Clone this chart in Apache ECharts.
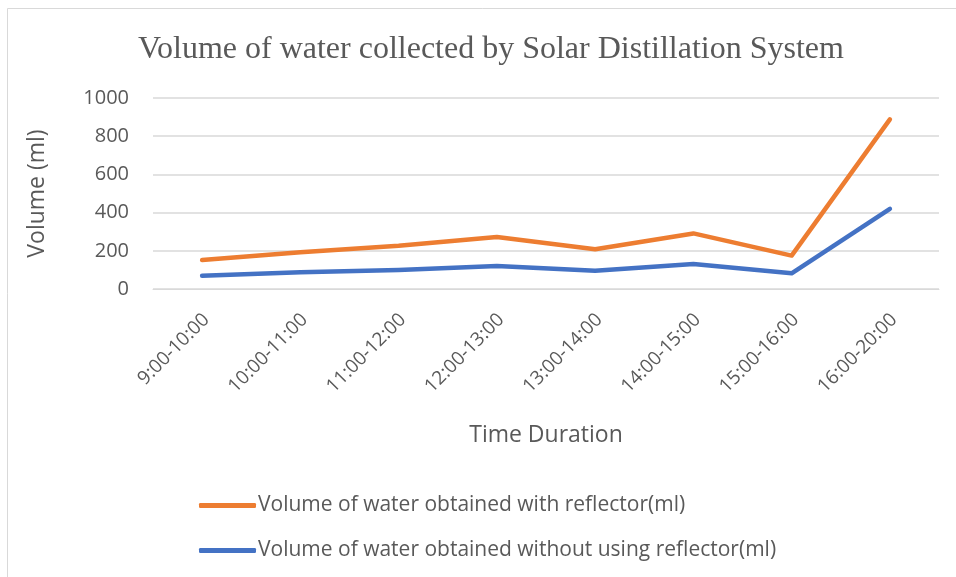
<!DOCTYPE html>
<html>
<head>
<meta charset="utf-8">
<script src="https://cdn.jsdelivr.net/npm/echarts@6/dist/echarts.min.js"></script>
<style>
  html, body { margin: 0; padding: 0; background: #fff; }
  #main { width: 956px; height: 577px; }
</style>
</head>
<body>
<div id="main"></div>
<script>
// categories & values
var timeSlots = ['9:00-10:00', '10:00-11:00', '11:00-12:00', '12:00-13:00',
                 '13:00-14:00', '14:00-15:00', '15:00-16:00', '16:00-20:00'];
var withReflector = [152, 193, 226, 272, 208, 291, 175, 888];
var withoutReflector = [70, 88, 100, 121, 95, 131, 82, 420];
var yTicks = [0, 200, 400, 600, 800, 1000];

var seriesNames = ['Volume of water obtained with reflector(ml)',
                   'Volume of water obtained without using reflector(ml)'];

var txt = '#595959';
var sans = '"Open Sans", Lato, sans-serif';

var myChart = echarts.init(document.getElementById('main'));
var option = {
    backgroundColor: '#fff',
    animation: false,
    title: {
        text: 'Volume of water collected by Solar Distillation System',
        left: 133,
        top: 29,
        textStyle: {
            fontFamily: '"Liberation Serif", "DejaVu Serif", serif',
            fontSize: 32,
            fontWeight: 'normal',
            color: txt
        }
    },
    // outer chart border
    graphic: [{
        type: 'rect',
        shape: { x: 7.5, y: 8.5, width: 1000, height: 700 },
        style: { fill: 'none', stroke: '#d9d9d9', lineWidth: 1 },
        silent: true
    }],
    legend: {
        orient: 'vertical',
        left: 194,
        top: 490,
        itemWidth: 57,
        itemHeight: 5,
        itemGap: 24,
        icon: 'roundRect',
        textStyle: { fontFamily: sans, fontSize: 21, color: txt, padding: [0, 0, 0, -3] },
        data: seriesNames
    },
    grid: {
        left: 153,
        right: 17,
        top: 98,
        bottom: 288,
        containLabel: false
    },
    xAxis: {
        type: 'category',
        data: timeSlots,
        boundaryGap: true,
        name: 'Time Duration',
        nameLocation: 'middle',
        nameGap: 135,
        nameTextStyle: { fontFamily: sans, fontSize: 23, color: txt },
        axisLine: { show: true, lineStyle: { color: '#d9d9d9', width: 1 } },
        axisTick: { show: false },
        axisLabel: {
            rotate: 45,
            margin: 32,
            padding: [0, -6, 0, 0],
            fontFamily: sans,
            fontSize: 19,
            color: txt
        }
    },
    yAxis: {
        type: 'value',
        min: yTicks[0],
        max: yTicks[yTicks.length - 1],
        interval: 200,
        name: 'Volume (ml)',
        nameLocation: 'middle',
        nameGap: 104,
        nameTextStyle: { fontFamily: sans, fontSize: 23, color: txt },
        axisLine: { show: false },
        axisTick: { show: false },
        axisLabel: {
            margin: 24,
            fontFamily: sans,
            fontSize: 20,
            color: txt,
            formatter: function (v) { return String(v); }
        },
        splitLine: { lineStyle: { color: '#d9d9d9', width: 1.5 } }
    },
    series: [
        {
            name: seriesNames[0],
            type: 'line',
            data: withReflector,
            symbol: 'none',
            lineStyle: { color: '#ED7D31', width: 4.5, cap: 'round', join: 'round' },
            itemStyle: { color: '#ED7D31' }
        },
        {
            name: seriesNames[1],
            type: 'line',
            data: withoutReflector,
            symbol: 'none',
            lineStyle: { color: '#4472C4', width: 4.5, cap: 'round', join: 'round' },
            itemStyle: { color: '#4472C4' }
        }
    ]
};
myChart.setOption(option);
</script>
</body>
</html>
